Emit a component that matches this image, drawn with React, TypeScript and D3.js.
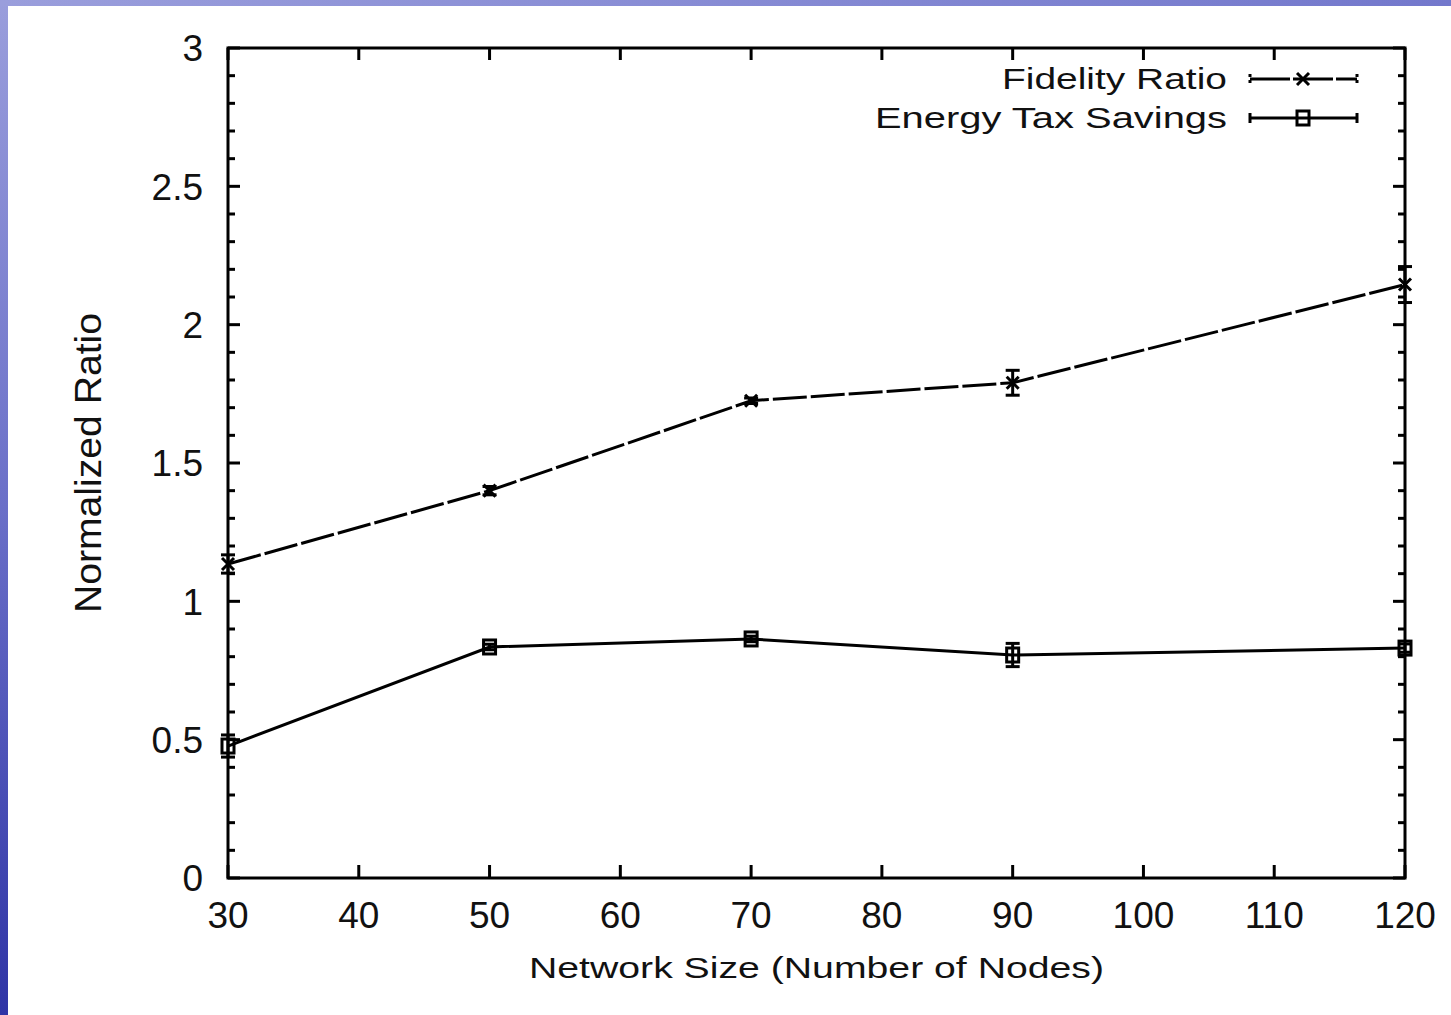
import React from 'react';
import * as d3 from 'd3';

// values
const nodes = [30, 50, 70, 90, 120];
const fidelity = [1.135, 1.4, 1.725, 1.79, 2.145];
const fidelityErr = [0.033, 0.015, 0.01, 0.045, 0.065];
const energy = [0.477, 0.835, 0.864, 0.806, 0.831];
const energyErr = [0.04, 0.01, 0.01, 0.042, 0.015];

const xTicks = [30, 40, 50, 60, 70, 80, 90, 100, 110, 120];
const yTicks = [0, 0.5, 1, 1.5, 2, 2.5, 3];
const yMinor = d3.range(0, 3.0001, 0.1);

const W = 1451;
const H = 1015;
const left = 228, right = 1405, top = 48, bottom = 878;
const FONT = '"Liberation Sans", Arial, Helvetica, sans-serif';
const DASH = '34 4';

export default function App() {
    const x = d3.scaleLinear().domain([30, 120]).range([left, right]);
    const y = d3.scaleLinear().domain([0, 3]).range([bottom, top]);

    const line = d3.line<number>()
        .x((d, i) => x(nodes[i]))
        .y((d) => y(d));

    const cross = (cx: number, cy: number, key: string) => (
        <g key={key} stroke="#000" strokeWidth={3}>
            <line x1={cx - 6} y1={cy - 6} x2={cx + 6} y2={cy + 6} />
            <line x1={cx - 6} y1={cy + 6} x2={cx + 6} y2={cy - 6} />
        </g>
    );
    const square = (cx: number, cy: number, key: string) => (
        <rect key={key} x={cx - 6} y={cy - 7} width={12} height={14}
            fill="none" stroke="#000" strokeWidth={3} />
    );

    const errBars = (vals: number[], errs: number[]) =>
        vals.map((v, i) => {
            const cx = x(nodes[i]);
            const y0 = y(v - errs[i]), y1 = y(v + errs[i]);
            return (
                <g key={'e' + i} stroke="#000" strokeWidth={3}>
                    <line x1={cx} x2={cx} y1={y0} y2={y1} />
                    <line x1={cx - 7} x2={cx + 7} y1={y0} y2={y0} />
                    <line x1={cx - 7} x2={cx + 7} y1={y1} y2={y1} />
                </g>
            );
        });

    return (
        <svg width={W} height={H} style={{ position: 'absolute', left: 0, top: 0 }}>
            <defs>
                <linearGradient id="side" x1="0" y1="0" x2="0" y2="1">
                    <stop offset="0" stopColor="#9a9edc" />
                    <stop offset="0.5" stopColor="#6a6fc8" />
                    <stop offset="1" stopColor="#2f34a6" />
                </linearGradient>
                <linearGradient id="topb" x1="0" y1="0" x2="1" y2="0">
                    <stop offset="0" stopColor="#9a9edc" />
                    <stop offset="1" stopColor="#7378cc" />
                </linearGradient>
            </defs>
            <rect x={0} y={0} width={W} height={H} fill="url(#side)" />
            <rect x={0} y={0} width={W} height={6} fill="url(#topb)" />
            <rect x={8} y={6} width={W - 8} height={H - 6} fill="#fff" />

            {/* y ticks, mirrored on the right */}
            <g stroke="#000" strokeWidth={3}>
                {yMinor.map((t, i) => {
                    const major = i % 5 === 0;
                    const len = major ? 12 : 7;
                    return (
                        <g key={'yt' + i}>
                            <line x1={left} x2={left + len} y1={y(t)} y2={y(t)} />
                            <line x1={right} x2={right - len} y1={y(t)} y2={y(t)} />
                        </g>
                    );
                })}
                {xTicks.map((t) => (
                    <g key={'xt' + t}>
                        <line x1={x(t)} x2={x(t)} y1={bottom} y2={bottom - 13} />
                        <line x1={x(t)} x2={x(t)} y1={top} y2={top + 12} />
                    </g>
                ))}
            </g>

            <rect x={left} y={top} width={right - left} height={bottom - top}
                fill="none" stroke="#000" strokeWidth={3} />

            {/* tick labels */}
            <g fontFamily={FONT} fontSize={37} fill="#111">
                {yTicks.map((t) => (
                    <text key={'yl' + t} x={203} y={y(t)} dy="0.36em" textAnchor="end">{t}</text>
                ))}
                {xTicks.map((t) => (
                    <text key={'xl' + t} x={x(t)} y={928} textAnchor="middle">{t}</text>
                ))}
            </g>

            {/* axis titles */}
            <text x={(left + right) / 2} y={978} textAnchor="middle" fontFamily={FONT}
                fontSize={29} textLength={575} lengthAdjust="spacingAndGlyphs" fill="#111">
                Network Size (Number of Nodes)
            </text>
            <text transform={`translate(101,${(top + bottom) / 2}) rotate(-90)`} textAnchor="middle"
                fontFamily={FONT} fontSize={37} textLength={300} lengthAdjust="spacingAndGlyphs" fill="#111">
                Normalized Ratio
            </text>

            {/* Fidelity Ratio */}
            <path d={line(fidelity) || ''} fill="none" stroke="#000" strokeWidth={3}
                strokeDasharray={DASH} />
            {errBars(fidelity, fidelityErr)}
            {fidelity.map((v, i) => cross(x(nodes[i]), y(v), 'fc' + i))}

            {/* Energy Tax Savings */}
            <path d={line(energy) || ''} fill="none" stroke="#000" strokeWidth={3} />
            {errBars(energy, energyErr)}
            {energy.map((v, i) => square(x(nodes[i]), y(v), 'es' + i))}

            {/* legend */}
            <g fontFamily={FONT} fontSize={29} fill="#111">
                <text x={1227} y={89} textAnchor="end" textLength={225} lengthAdjust="spacingAndGlyphs">Fidelity Ratio</text>
                <text x={1227} y={128} textAnchor="end" textLength={352} lengthAdjust="spacingAndGlyphs">Energy Tax Savings</text>
            </g>
            <g stroke="#000" strokeWidth={3}>
                <line x1={1250} x2={1357} y1={79} y2={79} strokeDasharray="40 3" />
                <line x1={1250} x2={1250} y1={74} y2={84} strokeDasharray="3 3" />
                <line x1={1357} x2={1357} y1={74} y2={84} strokeDasharray="3 3" />
                <line x1={1250} x2={1357} y1={118} y2={118} />
                <line x1={1250} x2={1250} y1={113} y2={123} />
                <line x1={1357} x2={1357} y1={113} y2={123} />
            </g>
            {cross(1303, 79, 'lc')}
            {square(1303, 118, 'ls')}
        </svg>
    );
}
